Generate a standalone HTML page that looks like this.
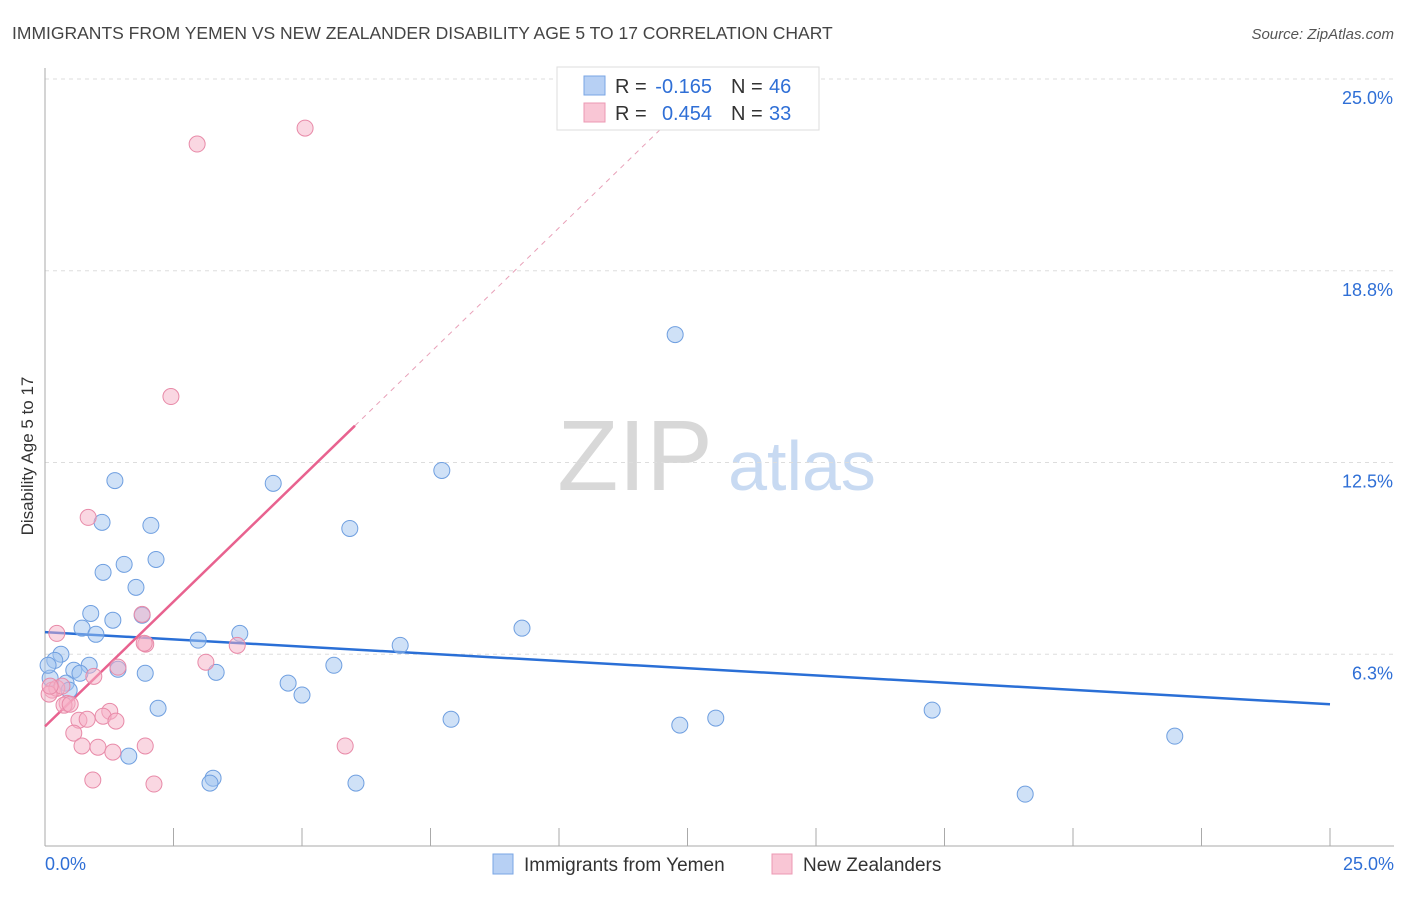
<!DOCTYPE html>
<html><head><meta charset="utf-8"><style>
body{margin:0;background:#fff;font-family:"Liberation Sans",sans-serif;}
svg text{font-family:"Liberation Sans",sans-serif;}
</style></head><body>
<svg id="chart" width="1406" height="892" xmlns="http://www.w3.org/2000/svg">
<text x="12" y="39" font-size="17.5" fill="#444">IMMIGRANTS FROM YEMEN VS NEW ZEALANDER DISABILITY AGE 5 TO 17 CORRELATION CHART</text>
<text x="1394" y="39" font-size="15" fill="#555" text-anchor="end" font-style="italic">Source: ZipAtlas.com</text>
<text transform="translate(33,456) rotate(-90)" font-size="17" fill="#333" text-anchor="middle">Disability Age 5 to 17</text>
<g>
<text x="635" y="490" font-size="100" fill="#d8d8d8" text-anchor="middle" font-family="Liberation Serif,serif">ZIP</text>
<text x="802" y="490" font-size="70" fill="#c8daf2" text-anchor="middle">atlas</text>
</g>
<g id="grid"></g><g id="axes"></g><g id="lines"></g><g id="points"></g>
<g>
<rect x="557" y="67" width="262" height="63" fill="#fff" stroke="#ddd"/>
<rect x="584" y="76" width="21" height="19" fill="#b7d0f4" stroke="#7aa6e4"/>
<text x="615" y="93" font-size="20" fill="#333">R =</text>
<text x="712" y="93" font-size="20" fill="#2f6fd6" text-anchor="end">-0.165</text>
<text x="731" y="93" font-size="20" fill="#333">N =</text>
<text x="769" y="93" font-size="20" fill="#2f6fd6">46</text>
<rect x="584" y="103" width="21" height="19" fill="#f9c6d5" stroke="#ec98b3"/>
<text x="615" y="120" font-size="20" fill="#333">R =</text>
<text x="712" y="120" font-size="20" fill="#2f6fd6" text-anchor="end">0.454</text>
<text x="731" y="120" font-size="20" fill="#333">N =</text>
<text x="769" y="120" font-size="20" fill="#2f6fd6">33</text>
</g>
<g>
<rect x="493" y="854" width="20" height="20" fill="#b7d0f4" stroke="#7aa6e4"/>
<text x="524" y="871" font-size="19" fill="#333">Immigrants from Yemen</text>
<rect x="772" y="854" width="20" height="20" fill="#f9c6d5" stroke="#ec98b3"/>
<text x="803" y="871" font-size="19" fill="#333">New Zealanders</text>
</g>
</svg>
<script>
const yTicks=[6.25,12.5,18.75,25];
const yTickLabels=["6.3%","12.5%","18.8%","25.0%"];
const xLabels=["0.0%","25.0%"];
const blueX=[12.26,7.72,1.36,4.44,1.11,2.06,5.93,2.16,1.13,1.54,1.77,0.89,1.32,1.89,0.72,0.99,9.28,3.79,2.98,6.91,0.31,0.19,0.86,0.56,0.68,5.62,1.95,3.33,1.42,0.41,0.10,4.73,5.00,0.47,2.20,7.90,12.35,13.05,17.26,21.98,1.63,3.27,3.21,6.05,19.07,0.06];
const blueY=[16.67,12.24,11.91,11.82,10.55,10.45,10.35,9.34,8.92,9.18,8.43,7.58,7.36,7.52,7.10,6.90,7.10,6.93,6.71,6.54,6.25,6.05,5.89,5.73,5.63,5.89,5.63,5.66,5.76,5.31,5.47,5.31,4.92,5.08,4.49,4.13,3.94,4.17,4.43,3.58,2.93,2.21,2.05,2.05,1.69,5.89];
const pinkX=[5.06,2.96,2.45,0.84,0.23,1.89,1.96,1.93,3.74,3.13,1.42,0.95,0.14,0.23,0.08,0.43,0.37,0.49,1.26,1.13,0.66,0.82,1.38,0.56,0.72,1.03,1.95,5.84,1.32,0.93,2.12,0.33,0.10];
const pinkY=[23.40,22.88,14.65,10.71,6.93,7.55,6.58,6.61,6.54,5.99,5.83,5.53,5.08,5.14,4.95,4.65,4.59,4.62,4.39,4.23,4.10,4.13,4.07,3.68,3.26,3.22,3.26,3.26,3.06,2.15,2.02,5.21,5.21];
const blueTrend=[6.97,4.62];
const pinkTrend=[3.9,13.7];
const pinkTrendEndX=6.03;
const NS="http://www.w3.org/2000/svg";
const X=v=>45+v*(1285/25), Y=v=>846-v*(767/25);
function mk(p,t,a){const e=document.createElementNS(NS,t);for(const k in a)e.setAttribute(k,a[k]);document.getElementById(p).appendChild(e);return e;}
yTicks.forEach((t,i)=>{
 const g=mk('grid','line',{x1:45,x2:1394,y1:Y(t),y2:Y(t),stroke:'#ddd','stroke-dasharray':'4,4'});
 
 
 const l=mk('axes','text',{x:1393,y:Y(t)+25,'font-size':18,fill:'#2f6fd6','text-anchor':'end'});
 l.textContent=yTickLabels[i];
 
 
});
const ax=mk('axes','line',{x1:45,x2:1394,y1:846,y2:846,stroke:'#aaa'});


const ay=mk('axes','line',{x1:45,x2:45,y1:68,y2:846,stroke:'#aaa'});


for(let i=0;i<=10;i++){const t=mk('axes','line',{x1:X(i*2.5),x2:X(i*2.5),y1:828,y2:846,stroke:'#aaa'});
 
 }
const xl0=mk('axes','text',{x:45,y:870,'font-size':18,fill:'#2f6fd6'});xl0.textContent=xLabels[0];


const xl1=mk('axes','text',{x:1394,y:870,'font-size':18,fill:'#2f6fd6','text-anchor':'end'});xl1.textContent=xLabels[1];


const slope=(pinkTrend[1]-pinkTrend[0])/pinkTrendEndX;
const yTop=23.37;
const xTop=(yTop-pinkTrend[0])/slope;
const d=mk('lines','line',{x1:X(pinkTrendEndX),y1:Y(pinkTrend[1]),x2:X(xTop),y2:Y(yTop),stroke:'#e8a0b8','stroke-dasharray':'5,5','stroke-width':1});


const bl=mk('lines','line',{x1:X(0),y1:Y(blueTrend[0]),x2:X(25),y2:Y(blueTrend[1]),stroke:'#2a6fd6','stroke-width':2.5});


const pl=mk('lines','line',{x1:X(0),y1:Y(pinkTrend[0]),x2:X(pinkTrendEndX),y2:Y(pinkTrend[1]),stroke:'#e8628f','stroke-width':2.5});


blueX.forEach((x,i)=>{const c=mk('points','circle',{cx:X(x),cy:Y(blueY[i]),r:8,fill:'rgba(160,195,240,0.5)',stroke:'#6f9fe0','stroke-width':1});
 
 });
pinkX.forEach((x,i)=>{const c=mk('points','circle',{cx:X(x),cy:Y(pinkY[i]),r:8,fill:'rgba(245,175,198,0.5)',stroke:'#e88aa8','stroke-width':1});
 
 });
</script>
</body></html>
